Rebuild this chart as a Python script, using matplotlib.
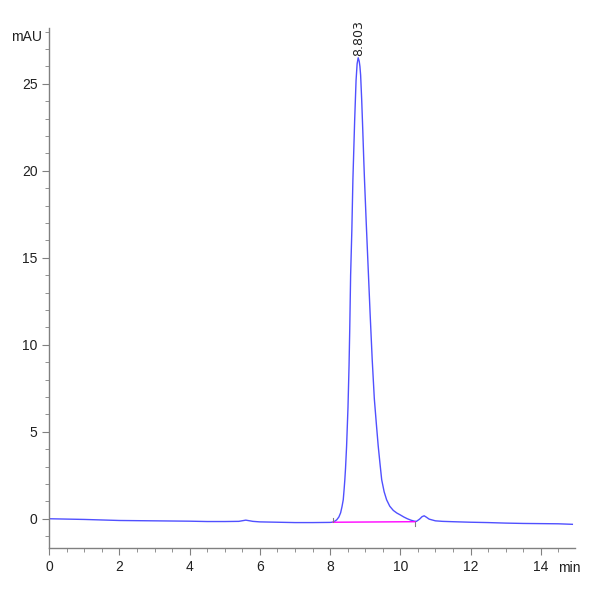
import matplotlib
matplotlib.use("Agg")
import matplotlib.pyplot as plt
from matplotlib.ticker import MultipleLocator

plt.rcParams['font.family'] = ['Liberation Sans Narrow', 'Liberation Sans', 'DejaVu Sans']

# chromatogram trace (min, mAU)
time = [0.0, 0.5, 1.0, 1.5, 2.0, 2.5, 3.0, 3.5, 4.0, 4.5, 5.0, 5.4, 5.6, 5.8,
        6.0, 6.5, 7.0, 7.5, 8.0, 8.1, 8.19, 8.25, 8.30, 8.34, 8.375, 8.40,
        8.42, 8.44, 8.47, 8.51, 8.54, 8.56, 8.585, 8.62, 8.65, 8.70, 8.74,
        8.77, 8.80, 8.83, 8.85, 8.87, 8.90, 8.93, 8.96, 8.98, 9.03, 9.087,
        9.14, 9.20, 9.26, 9.32, 9.37, 9.42, 9.47, 9.54, 9.61, 9.70, 9.80,
        9.90, 10.0, 10.1, 10.2, 10.3, 10.4, 10.46, 10.55, 10.62, 10.68,
        10.75, 10.82, 10.89, 11.0, 11.2, 11.5, 12.0, 12.5, 13.0, 13.5, 14.0,
        14.5, 14.9]
signal = [0.0, -0.02, -0.04, -0.07, -0.10, -0.11, -0.12, -0.13, -0.14, -0.16,
          -0.16, -0.15, -0.08, -0.15, -0.18, -0.20, -0.22, -0.22, -0.21, -0.19,
          -0.06, 0.10, 0.34, 0.70, 1.09, 1.7, 2.24, 2.9, 4.16, 6.4, 8.8, 10.9,
          14.0, 16.6, 19.5, 22.9, 25.2, 26.15, 26.5, 26.3, 26.0, 25.5, 24.1,
          22.4, 20.6, 19.5, 17.0, 14.3, 11.8, 9.14, 6.9, 5.4, 4.2, 3.2, 2.24,
          1.55, 1.09, 0.72, 0.48, 0.33, 0.22, 0.10, 0.0, -0.08, -0.14, -0.15,
          -0.02, 0.12, 0.17, 0.08, -0.02, -0.06, -0.12, -0.15, -0.17, -0.20,
          -0.22, -0.25, -0.27, -0.28, -0.29, -0.32]

peak_time = 8.803
peak_label = "8.803"
base_start = (8.08, -0.20)
base_end = (10.42, -0.17)

fig = plt.figure(figsize=(6, 6), dpi=100)
ax = fig.add_axes([0.082, 0.087, 0.876, 0.866])

ax.plot(time, signal, color='#5050ff', lw=1.0)
ax.plot([base_start[0], base_end[0]], [base_start[1], base_end[1]],
        color='#ff00ff', lw=1.0)
ax.plot([base_start[0], base_start[0]], [base_start[1], base_start[1] + 0.25],
        color='#808080', lw=0.8)
ax.plot([base_end[0], base_end[0]], [base_end[1], base_end[1] - 0.25],
        color='#808080', lw=0.8)

ax.text(peak_time, 26.6, peak_label, rotation=90, ha='center', va='bottom',
        fontsize=9, family=['DejaVu Sans'], color='#202020')

ax.set_xlim(0, 14.97)
ax.set_ylim(-1.67, 28.2)
ax.xaxis.set_major_locator(MultipleLocator(2))
ax.xaxis.set_minor_locator(MultipleLocator(0.5))
ax.yaxis.set_major_locator(MultipleLocator(5))
ax.yaxis.set_minor_locator(MultipleLocator(1))

for s in ['top', 'right']:
    ax.spines[s].set_visible(False)
for s in ['left', 'bottom']:
    ax.spines[s].set_color('#808080')
    ax.spines[s].set_linewidth(1.0)

ax.tick_params(which='both', direction='out', color='#808080', labelsize=10,
               labelcolor='#202020')
ax.tick_params(which='major', length=5)
ax.tick_params(which='minor', length=3)

fig.text(0.07, 0.938, "mAU", ha='right', va='center', fontsize=10, color='#202020')
fig.text(0.948, 0.053, "min", ha='center', va='center', fontsize=10, color='#202020')

fig.savefig("out.png", dpi=100)
